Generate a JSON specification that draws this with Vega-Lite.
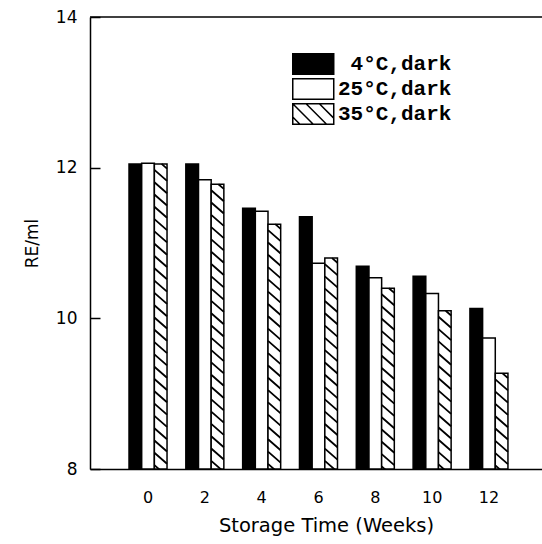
{
  "$schema": "https://vega.github.io/schema/vega-lite/v6.json",
  "autosize": {"type": "none"},
  "padding": {"left": 90, "top": 17, "right": 0, "bottom": 75},
  "width": 452,
  "height": 452,
  "background": "white",
  "config": {
    "view": {"stroke": null},
    "axis": {"labelFont": "DejaVu Sans", "titleFont": "DejaVu Sans", "labelColor": "black", "titleColor": "black", "domainColor": "black", "tickColor": "black", "grid": false, "titleFontWeight": "normal"}
  },
  "data": {"values": [
    {"week": 0, "series": "4°C,dark", "value": 12.05},
    {"week": 2, "series": "4°C,dark", "value": 12.05},
    {"week": 4, "series": "4°C,dark", "value": 11.46},
    {"week": 6, "series": "4°C,dark", "value": 11.35},
    {"week": 8, "series": "4°C,dark", "value": 10.69},
    {"week": 10, "series": "4°C,dark", "value": 10.56},
    {"week": 12, "series": "4°C,dark", "value": 10.13},
    {"week": 0, "series": "25°C,dark", "value": 12.06},
    {"week": 2, "series": "25°C,dark", "value": 11.84},
    {"week": 4, "series": "25°C,dark", "value": 11.42},
    {"week": 6, "series": "25°C,dark", "value": 10.73},
    {"week": 8, "series": "25°C,dark", "value": 10.54},
    {"week": 10, "series": "25°C,dark", "value": 10.33},
    {"week": 12, "series": "25°C,dark", "value": 9.74},
    {"week": 0, "series": "35°C,dark", "value": 12.05},
    {"week": 2, "series": "35°C,dark", "value": 11.78},
    {"week": 4, "series": "35°C,dark", "value": 11.25},
    {"week": 6, "series": "35°C,dark", "value": 10.80},
    {"week": 8, "series": "35°C,dark", "value": 10.40},
    {"week": 10, "series": "35°C,dark", "value": 10.10},
    {"week": 12, "series": "35°C,dark", "value": 9.27}
  ]},
  "layer": [
    {
      "mark": {"type": "bar", "stroke": "black", "strokeWidth": 1.5},
      "encoding": {
        "x": {"field": "week", "type": "ordinal",
          "scale": {"paddingInner": 0.331, "paddingOuter": 0.643, "align": 0.534},
          "axis": {"title": "Storage Time (Weeks)", "labelAngle": 0, "ticks": false, "labelPadding": 20, "labelFontSize": 16, "titleFontSize": 19.5, "titlePadding": 11, "titleX": 236, "domainWidth": 1.5}},
        "xOffset": {"field": "series", "type": "nominal",
          "scale": {"domain": ["4°C,dark", "25°C,dark", "35°C,dark"], "paddingInner": 0, "paddingOuter": 0}},
        "y": {"field": "value", "type": "quantitative",
          "scale": {"domain": [8, 14], "zero": false, "nice": false},
          "axis": {"values": [8, 10, 12, 14], "format": "d", "ticks": false, "labelPadding": 13, "domainWidth": 1.5, "labelFontSize": 17, "title": "RE/ml", "titleFontSize": 17, "titlePadding": 14,
            "grid": true, "gridColor": "black", "gridWidth": 1.5, "gridOpacity": 1, "gridDash": [10, 2000]}},
        "y2": {"datum": 8},
        "fill": {"field": "series", "type": "nominal",
          "scale": {"domain": ["4°C,dark", "25°C,dark", "35°C,dark"], "range": ["black", "white", "white"]},
          "legend": {
            "title": null, "orient": "none", "legendX": 202, "legendY": 36,
            "symbolType": "M-1,-1H3V1H-1Z", "symbolSize": 420,
            "symbolStrokeColor": "black", "symbolStrokeWidth": 1.5,
            "labelFont": "Liberation Mono", "labelFontWeight": "bold", "labelFontSize": 21, "labelColor": "black",
            "labelOffset": 24, "rowPadding": -3.5,
            "encode": {
              "symbols": {"update": {"shape": [
                {"test": "datum.value === '35°C,dark'", "value": "M-1,-1H3V1H-1Z M-1,-1L1,1 M0.3,-1L2.3,1 M1.6,-1L3,0.4 M-1,0.3L-0.3,1"},
                {"value": "M-1,-1H3V1H-1Z"}
              ]}},
              "labels": {"update": {"dx": [
                {"test": "datum.value === '4°C,dark'", "value": 12.6},
                {"value": 0}
              ]}}
            }
          }}
      }
    },
    {
      "transform": [{"filter": "datum.series === '35°C,dark'"}],
      "mark": {"type": "point", "shape": "M0.009,0L0.063,0.047M-0.063,0.06l0.126,0.11m-0.126,0.013l0.126,0.11m-0.126,0.013l0.126,0.11m-0.126,0.013l0.126,0.11m-0.126,0.013l0.126,0.11m-0.126,0.013l0.126,0.11m-0.126,0.013l0.126,0.11m-0.126,0.013l0.126,0.11m-0.126,0.013l0.126,0.11m-0.126,0.013l0.126,0.11m-0.126,0.013l0.126,0.11m-0.126,0.013l0.126,0.11m-0.126,0.013l0.126,0.11m-0.126,0.013l0.126,0.11m-0.126,0.013l0.126,0.11m-0.126,0.013l0.126,0.11m-0.126,0.013l0.126,0.11m-0.126,0.013l0.126,0.11m-0.126,0.013l0.126,0.11m-0.126,0.013l0.126,0.11m-0.126,0.013l0.126,0.11m-0.126,0.013l0.126,0.11m-0.126,0.013l0.126,0.11m-0.126,0.013l0.126,0.11m-0.126,0.013l0.126,0.11m-0.126,0.013l0.126,0.11",
        "size": 40000, "filled": false, "stroke": "black", "strokeWidth": 1.8, "opacity": 1, "clip": true},
      "encoding": {
        "x": {"field": "week", "type": "ordinal"},
        "xOffset": {"field": "series", "type": "nominal"},
        "y": {"field": "value", "type": "quantitative"}
      }
    },
    {
      "data": {"values": [{}]},
      "mark": {"type": "rule", "stroke": "black", "strokeWidth": 1.5},
      "encoding": {"y": {"datum": 14}}
    }
  ]
}
